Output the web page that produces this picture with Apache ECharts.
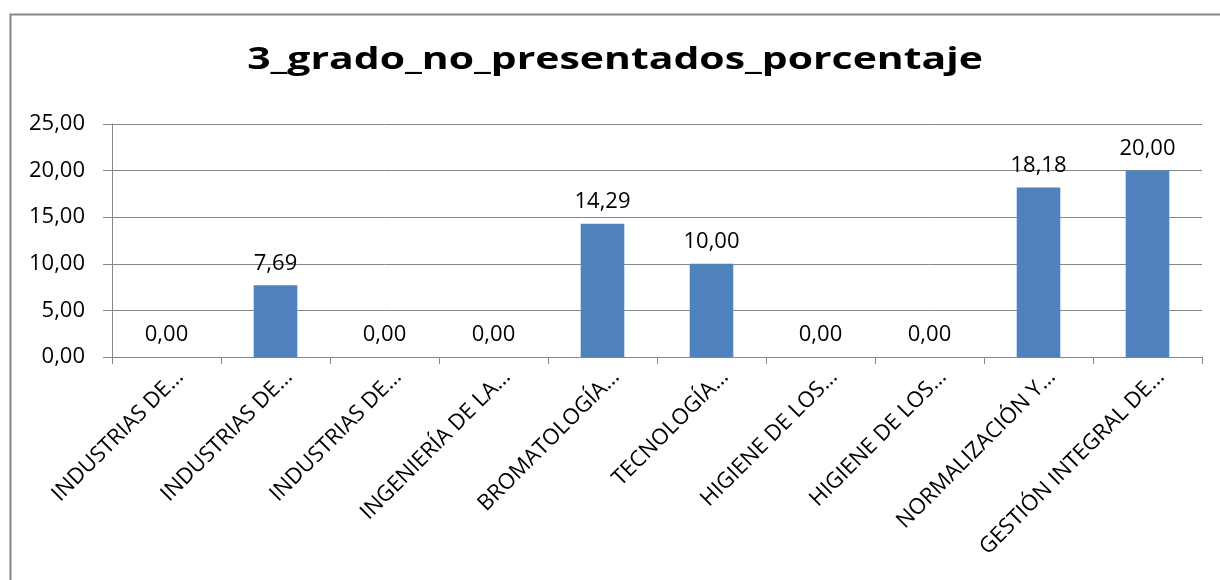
<!DOCTYPE html>
<html><head><meta charset="utf-8">
<script src="https://cdn.jsdelivr.net/npm/echarts@6/dist/echarts.min.js"></script>
<style>html,body{margin:0;padding:0;background:#fff}#c{width:1220px;height:580px}</style>
</head><body><div id="c"></div>
<script>
const title = '3_grado_no_presentados_porcentaje';
const categories = ['INDUSTRIAS DE…','INDUSTRIAS DE…','INDUSTRIAS DE…','INGENIERÍA DE LA…','BROMATOLOGÍA…','TECNOLOGÍA…','HIGIENE DE LOS…','HIGIENE DE LOS…','NORMALIZACIÓN Y…','GESTIÓN INTEGRAL DE…'];
const values = [0, 7.69, 0, 0, 14.29, 10, 0, 0, 18.18, 20];
const fmt = v => Number(v).toFixed(2).replace('.', ',');
const font = "'Open Sans', 'Noto Sans', sans-serif";
const chart = echarts.init(document.getElementById('c'), null, {renderer:'canvas'});
chart.setOption({
  animation: false,
  backgroundColor: '#fff',
  graphic: [
    {type:'rect', left: 8, top: 12, shape:{x:0,y:0,width:1300,height:700}, style:{fill:'none', stroke:'#868686', lineWidth:2}, silent:true},
    {type:'text', x: 615, y: 60, scaleX: 1.32, scaleY: 1, silent:true,
     style:{text: title, fontFamily: font, fontWeight:'bold', fontSize: 31, fill:'#000', align:'center', verticalAlign:'middle'}}
  ],
  grid: {left: 112, right: 18, top: 124, bottom: 223, containLabel: false},
  xAxis: {type:'category', data: categories, boundaryGap: true,
    axisLine:{lineStyle:{color:'#868686'}},
    axisTick:{show:true, alignWithLabel:false, length:7, lineStyle:{color:'#868686'}},
    axisLabel:{interval:0, rotate:45, margin: 30, padding:[0,-19,0,0], fontFamily: font, fontSize: 22, color:'#000'}},
  yAxis: {type:'value', min:0, max:25, interval:5,
    axisLine:{show:true, lineStyle:{color:'#868686'}},
    axisTick:{show:true, length:9, lineStyle:{color:'#868686'}},
    splitLine:{lineStyle:{color:'#868686'}},
    axisLabel:{formatter: fmt, fontFamily: font, fontSize: 22, color:'#000', margin: 27}},
  series: [{type:'bar', data: values, barWidth: '40%', itemStyle:{color:'#4F81BD'},
    label:{show:true, position:'top', distance: 11, formatter: p => fmt(p.value), fontFamily: font, fontSize: 22, color:'#000'}}]
});
</script></body></html>
